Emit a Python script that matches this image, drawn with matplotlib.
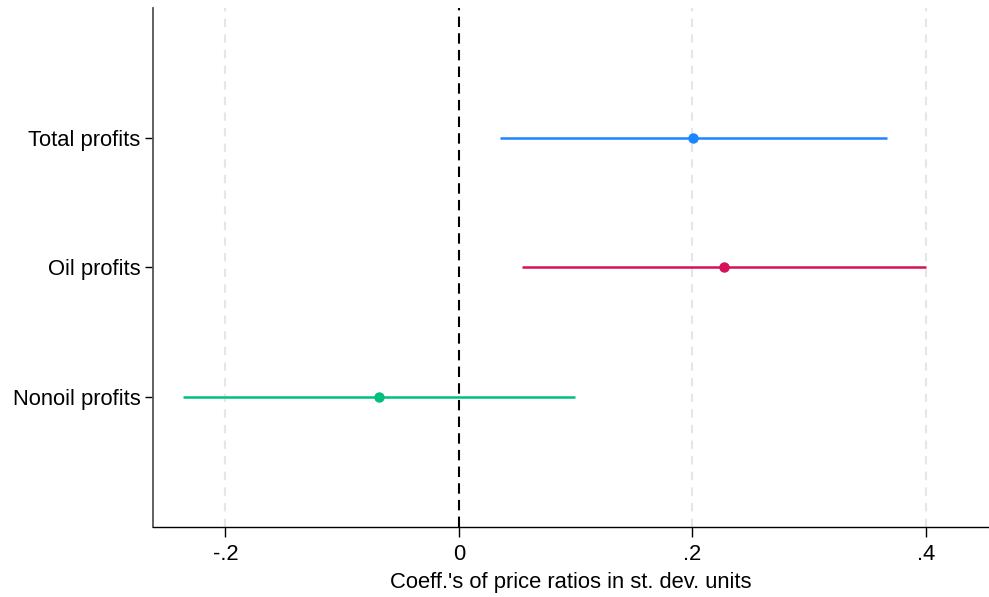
import matplotlib
matplotlib.use("Agg")
import matplotlib.pyplot as plt

categories = ["Total profits", "Oil profits", "Nonoil profits"]
coefs = [0.2005, 0.227, -0.0685]
ci_low = [0.035, 0.054, -0.236]
ci_high = [0.367, 0.400, 0.0994]
colors = ["#1a85ff", "#d41159", "#00c081"]
xticks = [-0.2, 0, 0.2, 0.4]
xtick_labels = ["-.2", "0", ".2", ".4"]
xlabel = "Coeff.'s of price ratios in st. dev. units"

plt.rcParams['font.family'] = ['Liberation Sans', 'DejaVu Sans']

fig = plt.figure(figsize=(9.89, 5.97), dpi=100)
ax = fig.add_axes([0.1547, 0.1173, 0.8453, 0.8693])

ypos = [3, 2, 1]
for x in xticks:
    if x != 0:
        ax.axvline(x, color="#e6e6e6", lw=1.5, ls=(0, (4, 3.5)), zorder=0)
ax.axvline(0, color="black", lw=1.5, ls=(0, (5, 3)), zorder=1)

for y, c, lo, hi, col in zip(ypos, coefs, ci_low, ci_high, colors):
    ax.plot([lo, hi], [y, y], color=col, lw=1.8, solid_capstyle="butt", zorder=2)
    ax.plot([c], [y], "o", color=col, ms=6.5, zorder=3)

ax.set_xlim(-0.262, 0.454)
ax.set_ylim(0, 4)
ax.set_yticks(ypos)
ax.set_yticklabels(categories)
ax.set_xticks(xticks)
ax.set_xticklabels(xtick_labels)
ax.set_xlabel(xlabel, fontsize=15.8, labelpad=5)
ax.tick_params(axis="both", labelsize=15.8, width=1, direction="out", color="black")
ax.tick_params(axis="x", pad=5, length=7)
ax.tick_params(axis="y", pad=3, length=6)

for s in ["top", "right"]:
    ax.spines[s].set_visible(False)
ax.spines["left"].set_color("#555555")
ax.spines["left"].set_linewidth(1.3)
ax.spines["bottom"].set_color("black")
ax.spines["bottom"].set_linewidth(1.0)

fig.savefig("out.png", dpi=100)
